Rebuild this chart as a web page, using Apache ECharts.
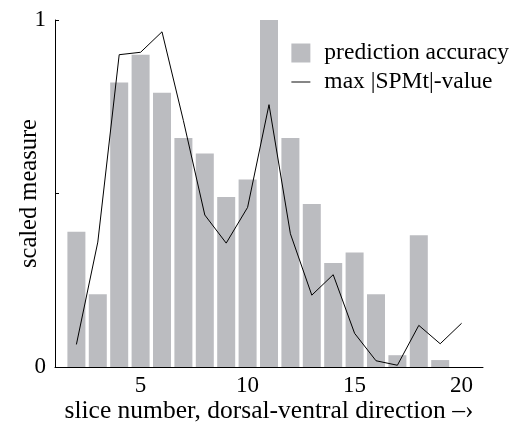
<!DOCTYPE html>
<html lang="en">
<head>
  <meta charset="UTF-8">
  <title>Scaled measure per slice</title>
  <style>
    html, body { margin: 0; padding: 0; background: #fff; }
  </style>
</head>
<body>
  <div id="chart" style="width: 514px; height: 423px;"></div>
  <script src="https://cdn.jsdelivr.net/npm/echarts@6/dist/echarts.min.js"></script>
  <script>
    // slices with a prediction accuracy bar
    const barSlices = [2, 3, 4, 5, 6, 7, 8, 9, 10, 11, 12, 13, 14, 15, 16, 17, 18, 19];
    const accuracy = [0.39, 0.21, 0.82, 0.90, 0.79, 0.66, 0.615, 0.49, 0.54, 1.0,
      0.66, 0.47, 0.30, 0.33, 0.21, 0.034, 0.38, 0.02];

    // slices for the max |SPMt| line
    const lineSlices = [2, 3, 4, 5, 6, 7, 8, 9, 10, 11, 12, 13, 14, 15, 16, 17, 18, 19, 20];
    const spmt = [0.065, 0.36, 0.90, 0.907, 0.966, 0.71, 0.438, 0.357, 0.46, 0.756,
      0.384, 0.207, 0.266, 0.097, 0.018, 0.005, 0.12, 0.067, 0.126];

    const xTicks = [5, 10, 15, 20];

    const font = "Liberation Serif";
    const chart = echarts.init(document.getElementById("chart"));

    chart.setOption({
      animation: false,
      textStyle: { fontFamily: font },
      grid: { left: 55, right: 31, top: 20, bottom: 56, outerBoundsMode: "none", containLabel: false },
      legend: {
        right: 0,
        top: 36,
        orient: "vertical",
        itemGap: 5,
        itemWidth: 19,
        itemHeight: 19,
        textStyle: { fontFamily: font, fontSize: 23.5, color: "#000", padding: [0, 0, 0, 9] },
        data: [
          { name: "prediction accuracy", icon: "rect" },
          { name: "max |SPMt|-value", icon: "path://M0,10L20,10L20,11L0,11Z" }
        ]
      },
      xAxis: {
        type: "value",
        min: 1,
        max: 21,
        name: "slice number, dorsal-ventral direction \u2013\u203a",
        nameLocation: "middle",
        nameGap: 31,
        nameMoveOverlap: false,
        nameTextStyle: { fontFamily: font, fontSize: 25.5, color: "#000" },
        axisLine: { lineStyle: { color: "#000", width: 1 } },
        axisTick: { show: false },
        splitLine: { show: false },
        axisLabel: {
          customValues: xTicks,
          fontFamily: font, fontSize: 23, color: "#000", margin: 7
        }
      },
      yAxis: {
        type: "value",
        min: 0,
        max: 1,
        interval: 0.5,
        name: "scaled measure",
        nameLocation: "middle",
        nameGap: 13,
        nameMoveOverlap: false,
        nameTextStyle: { fontFamily: font, fontSize: 24.5, color: "#000" },
        axisLine: { show: true, lineStyle: { color: "#000", width: 1 } },
        axisTick: { show: true, inside: true, length: 4, lineStyle: { color: "#000" } },
        splitLine: { show: false },
        axisLabel: {
          fontFamily: font, fontSize: 23, color: "#000", margin: 9,
          formatter: v => (v === 0 || v === 1) ? String(v) : ""
        }
      },
      series: [
        {
          name: "prediction accuracy",
          type: "bar",
          barWidth: 18,
          itemStyle: { color: "#bbbcc0" },
          data: barSlices.map((s, i) => [s, accuracy[i]])
        },
        {
          name: "max |SPMt|-value",
          type: "line",
          symbol: "none",
          lineStyle: { color: "#000", width: 1 },
          itemStyle: { color: "#000" },
          data: lineSlices.map((s, i) => [s, spmt[i]])
        }
      ]
    });
  </script>
</body>
</html>
